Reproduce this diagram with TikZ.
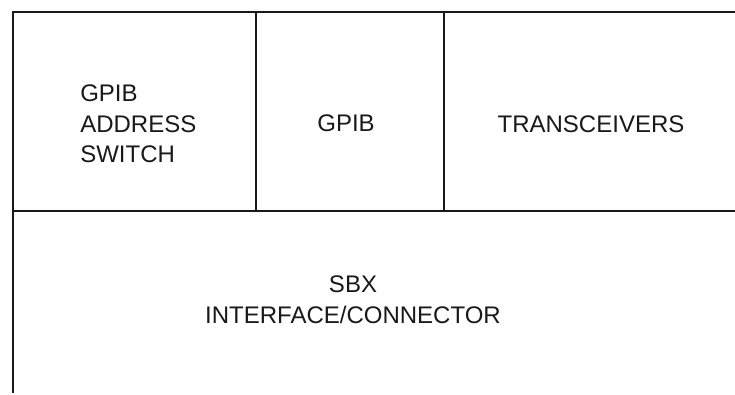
\documentclass[tikz,border=0pt]{standalone}
\usepackage{fontspec}
\setmainfont{Liberation Sans}
\begin{document}
\begin{tikzpicture}[x=0.75pt,y=-0.75pt,
  frame/.style={line width=1.6pt, black!90, line cap=rect},
  lbl/.style={font=\fontsize{18}{23}\selectfont, inner sep=0pt, text=black!90}]
\useasboundingbox (0,0) rectangle (735,395);
\coordinate (tl) at (13,12);
\coordinate (tr) at (736,12);
\coordinate (ml) at (13,211);
\coordinate (mr) at (736,211);
\coordinate (bl) at (13,392);
\coordinate (d1t) at (256,12);
\coordinate (d1b) at (256,211);
\coordinate (d2t) at (444,12);
\coordinate (d2b) at (444,211);
\draw[frame] (tr) -- (tl) -- (bl);
\draw[frame] (ml) -- (mr);
\draw[frame] (d1t) -- (d1b);
\draw[frame] (d2t) -- (d2b);
\node[lbl, anchor=base west, align=left] (addr) at (80,163) {GPIB\\ADDRESS\\SWITCH};
\node[lbl, anchor=base] (gpib) at (346,132) {GPIB};
\node[lbl, anchor=base] (trx) at (591,133) {TRANSCEIVERS};
\node[lbl, anchor=base, align=center] (sbx) at (353,323) {SBX\\INTERFACE/CONNECTOR};
\end{tikzpicture}
\end{document}
